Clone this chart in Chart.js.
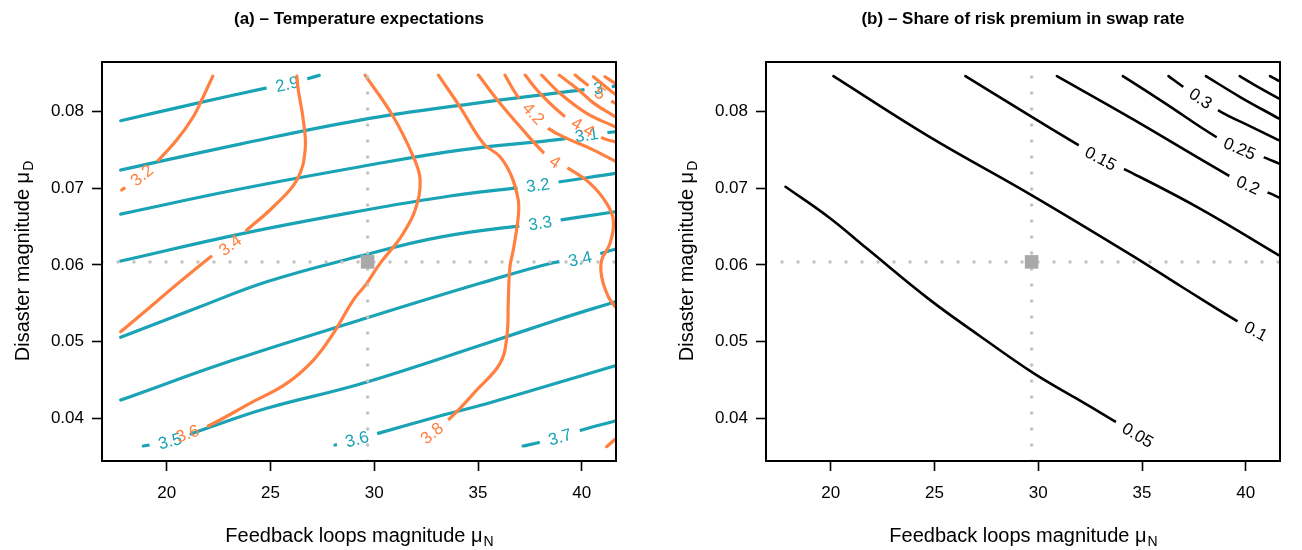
<!DOCTYPE html>
<html><head><meta charset="utf-8">
<script src="https://cdn.jsdelivr.net/npm/chart.js@4.4.1/dist/chart.umd.min.js"></script>
<style>
html,body{margin:0;padding:0;background:#fff;width:1302px;height:550px;overflow:hidden}
.panel{position:absolute;top:0;width:651px;height:550px}
#pa{left:0}#pb{left:651px}
</style></head><body>
<div class="panel" id="pa"><canvas id="ca" width="651" height="550"></canvas></div>
<div class="panel" id="pb"><canvas id="cb" width="651" height="550"></canvas></div>
<script>
// ---------- axes ----------
const xTicks = [20, 25, 30, 35, 40];
const xTickLabels = ['20', '25', '30', '35', '40'];
const yTicks = [0.04, 0.05, 0.06, 0.07, 0.08];
const yTickLabels = ['0.04', '0.05', '0.06', '0.07', '0.08'];
const xRange = [16.88, 41.65];
const yRange = [0.0344, 0.0865];
const refPoint = [29.68, 0.0604];

// ---------- panel (a): teal contours ----------
const tealLevels = ['2.9', '3', '3.1', '3.2', '3.3', '3.4', '3.5', '3.6', '3.7'];
const teal29 = [[17.78,0.07883],[21.27,0.0810],[24.77,0.08309],[25.80,0.08362],[27.35,0.08475]];
const teal30 = [[17.78,0.07239],[23.53,0.07578],[29.32,0.07892],[34.76,0.08107],[40.24,0.08292],[40.79,0.08309],[41.61,0.08336]];
const teal31 = [[17.78,0.06664],[23.53,0.06991],[29.32,0.07282],[34.13,0.0750],[38.95,0.0764],[40.24,0.07696],[41.61,0.07739]];
const teal32 = [[17.78,0.06051],[23.53,0.06403],[29.32,0.06704],[33.65,0.0690],[37.89,0.07043],[41.61,0.07196]];
const teal33 = [[17.78,0.05055],[21.6,0.05454],[24.82,0.05781],[29.32,0.06116],[33.17,0.06364],[37.99,0.06547],[41.61,0.06695]];
const teal34 = [[17.78,0.04236],[23.21,0.04758],[29.32,0.05281],[35.1,0.0576],[38.62,0.06029],[39.92,0.0608],[41.61,0.06204]];
const teal35 = [[18.87,0.03636],[20.16,0.03701],[21.45,0.03822],[24.82,0.04128],[29.32,0.04445],[35.42,0.04977],[38.8,0.05281],[41.61,0.0552]];
const teal36 = [[28.11,0.03649],[29.17,0.03727],[30.31,0.0381],[33.33,0.0404],[35.74,0.04214],[41.61,0.04684]];
const teal37 = [[37.17,0.03636],[37.89,0.03679],[38.95,0.03753],[40.0,0.03845],[41.61,0.03962]];
const tealLines = [teal29, teal30, teal31, teal32, teal33, teal34, teal35, teal36, teal37];
const tealLabelAt = [[25.80,0.08362],[40.79,0.08309],[40.24,0.07696],[37.89,0.07043],[37.99,0.06547],[39.92,0.0608],[20.16,0.03701],[29.17,0.03727],[38.95,0.03753]];

// ---------- panel (a): orange contours ----------
const orangeLevels = ['3.2', '3.4', '3.6', '3.8', '4', '4.2', '4.4', '4.6', '4.8', '5', '5.2', '5.4', '4'];
const orange32 = [[17.83,0.06978],[18.8,0.07174],[19.6,0.0737],[20.48,0.0763],[21.28,0.07935],[21.76,0.08196],[22.22,0.08466]];
const orange34 = [[17.78,0.05128],[22.09,0.06099],[23.05,0.0626],[23.86,0.06456],[25.14,0.0676],[26.27,0.07108],[26.67,0.075],[26.58,0.07892],[26.34,0.08283],[26.27,0.08466]];
const orange36 = [[21.0,0.038],[21.93,0.03888],[24.01,0.04193],[25.78,0.04454],[27.07,0.04758],[28.03,0.05107],[28.99,0.05542],[29.64,0.0576],[30.28,0.06021],[31.0,0.0626],[31.4,0.06413],[31.97,0.06717],[32.21,0.07108],[31.88,0.07413],[30.92,0.07935],[29.56,0.08479]];
const orange38 = [[32.78,0.03805],[33.65,0.03997],[34.94,0.04367],[36.06,0.04715],[36.39,0.05063],[36.46,0.05542],[36.54,0.05977],[36.7,0.06195],[36.94,0.06629],[36.94,0.06847],[36.63,0.07151],[36.06,0.07413],[35.26,0.07587],[34.13,0.08065],[33.09,0.08479]];
const orange40 = [[35.02,0.08479],[36.06,0.0811],[37.03,0.07804],[38.12,0.07478],[38.71,0.07347],[39.35,0.07261],[40.4,0.07065],[41.2,0.06804],[41.52,0.06586],[41.36,0.06282],[40.96,0.06064],[40.96,0.05846],[41.28,0.05585],[41.61,0.05454]];
const orange42 = [[36.3,0.08479],[36.87,0.08218],[37.67,0.07979],[38.39,0.07783],[39.28,0.07653],[40.4,0.07522],[41.61,0.07356]];
const orange44 = [[37.27,0.08479],[37.99,0.0824],[39.2,0.07935],[40.06,0.078],[41.04,0.07653],[41.61,0.07608]];
const orange46 = [[38.07,0.08479],[38.95,0.0824],[40.24,0.07979],[41.61,0.07804]];
const orange48 = [[38.91,0.08479],[39.76,0.08305],[40.59,0.0811],[41.61,0.07935]];
const orange50 = [[39.68,0.08479],[40.4,0.08326],[40.88,0.08244],[41.36,0.08153],[41.61,0.0811]];
const orange52 = [[40.56,0.08457],[41.45,0.08261],[41.61,0.08231]];
const orange54 = [[41.12,0.08457],[41.61,0.08371]];
const orange40b = [[41.2,0.03627],[41.61,0.03723]];
const orangeLines = [orange32, orange34, orange36, orange38, orange40, orange42, orange44, orange46, orange48, orange50, orange52, orange54, orange40b];
const orangeLabelAt = [[18.8,0.07174],[23.05,0.0626],[21.0,0.038],[32.78,0.03805],[38.71,0.07347],[37.67,0.07979],[40.06,0.078],null,null,[40.88,0.08244],null,null,null];

// ---------- panel (b): black contours ----------
const blackLevels = ['0.05', '0.1', '0.15', '0.2', '0.25', '0.3', '0.35', '0.4', '0.45'];
const black005 = [[17.82,0.07021],[19.92,0.06620],[21.76,0.06210],[24.7,0.05560],[27.17,0.05075],[29.75,0.04590],[31.75,0.04270],[33.59,0.03975],[34.8,0.0378]];
const black010 = [[20.13,0.08466],[24.7,0.07683],[29.59,0.06926],[34.49,0.06129],[36.93,0.05712],[39.55,0.05272],[40.49,0.05137]];
const black015 = [[26.49,0.08466],[29.59,0.0795],[31.8,0.07587],[33.01,0.07392],[34.24,0.07239],[37.75,0.06743],[41.58,0.06129]];
const black020 = [[30.9,0.08466],[34.49,0.07914],[39.14,0.07174],[40.11,0.07043],[41.17,0.06935],[41.58,0.06883]];
const black025 = [[34.08,0.08466],[36.12,0.0811],[38.56,0.07674],[39.71,0.07522],[41.01,0.07392],[41.58,0.07326]];
const black030 = [[36.28,0.08466],[36.93,0.08336],[37.83,0.08175],[38.8,0.08],[40.2,0.07813],[41.58,0.0763]];
const black035 = [[38.08,0.08466],[39.71,0.08196],[41.58,0.07914]];
const black040 = [[39.71,0.08466],[40.69,0.08309],[41.58,0.08175]];
const black045 = [[41.17,0.08466],[41.58,0.08405]];
const blackLines = [black005, black010, black015, black020, black025, black030, black035, black040, black045];
const blackLabelAt = [[34.8,0.0378],[40.49,0.05137],[33.01,0.07392],[40.11,0.07043],[39.71,0.07522],[37.83,0.08175],null,null,null];

// ---------- styling ----------
const FONT = "'Liberation Sans', Arial, Helvetica, sans-serif";
const TEAL = '#1aa3b4';
const ORANGE = '#ff8040';
const REF = '#c2c2c2';

function lineDs(points, color, width, text, at) {
  return {
    data: points.map(p => ({x: p[0], y: p[1]})),
    showLine: true, borderColor: color, backgroundColor: color, borderWidth: width,
    pointRadius: 0, pointHoverRadius: 0, tension: 0.4,
    borderCapStyle: 'round', borderJoinStyle: 'round', fill: false,
    lab: at ? {x: at[0], y: at[1], text: text} : null
  };
}
function refDatasets() {
  return [
    {data: [{x: refPoint[0], y: refPoint[1]}], showLine: false, pointStyle: 'rect',
     pointRadius: 9.6, pointBackgroundColor: '#a9a9a9', pointBorderWidth: 0, borderColor: '#a9a9a9'},
    {data: [{x: xRange[0], y: refPoint[1]}, {x: xRange[1], y: refPoint[1]}], showLine: true,
     borderColor: REF, borderWidth: 3.5, borderDash: [0, 16], borderCapStyle: 'round', pointRadius: 0},
    {data: [{x: refPoint[0], y: yRange[0]}, {x: refPoint[0], y: yRange[1]}], showLine: true,
     borderColor: REF, borderWidth: 3.5, borderDash: [0, 16], borderCapStyle: 'round', pointRadius: 0}
  ];
}

// ---------- plugins ----------
const LABEL_SIZE = 17;
function labelGeometry(chart, ds) {
  const xs = chart.scales.x, ys = chart.scales.y;
  const cx = xs.getPixelForValue(ds.lab.x), cy = ys.getPixelForValue(ds.lab.y);
  const pts = ds.data.map(p => [xs.getPixelForValue(p.x), ys.getPixelForValue(p.y)]);
  let best = 0, bd = Infinity;
  pts.forEach((p, i) => { const d = (p[0]-cx)**2 + (p[1]-cy)**2; if (d < bd) { bd = d; best = i; } });
  const a = pts[Math.max(0, best-1)], b = pts[Math.min(pts.length-1, best+1)];
  let ang = Math.atan2(b[1]-a[1], b[0]-a[0]);
  if (ang > Math.PI/2) ang -= Math.PI;
  if (ang < -Math.PI/2) ang += Math.PI;
  const ctx = chart.ctx;
  ctx.save();
  ctx.font = LABEL_SIZE + 'px ' + FONT;
  const w = ctx.measureText(ds.lab.text).width;
  ctx.restore();
  return {cx, cy, ang, w: w + 18, h: LABEL_SIZE + 4};
}
const contourLabels = {
  id: 'contourLabels',
  beforeDatasetDraw(chart, args) {
    const ds = chart.data.datasets[args.index];
    if (!ds.lab) return;
    const g = labelGeometry(chart, ds);
    ds._geo = g;
    const ctx = chart.ctx;
    ctx.save();
    ctx.beginPath();
    ctx.rect(0, 0, chart.width, chart.height);
    const c = Math.cos(g.ang), s = Math.sin(g.ang);
    [[-g.w/2,-g.h/2],[g.w/2,-g.h/2],[g.w/2,g.h/2],[-g.w/2,g.h/2]].forEach((q, i) => {
      const X = g.cx + q[0]*c - q[1]*s, Y = g.cy + q[0]*s + q[1]*c;
      if (i) ctx.lineTo(X, Y); else ctx.moveTo(X, Y);
    });
    ctx.closePath();
    ctx.clip('evenodd');
  },
  afterDatasetDraw(chart, args) {
    const ds = chart.data.datasets[args.index];
    if (!ds.lab) return;
    const ctx = chart.ctx;
    ctx.restore();
    const g = ds._geo;
    ctx.save();
    ctx.translate(g.cx, g.cy);
    ctx.rotate(g.ang);
    ctx.font = LABEL_SIZE + 'px ' + FONT;
    ctx.fillStyle = ds.borderColor;
    ctx.textAlign = 'center';
    ctx.textBaseline = 'middle';
    ctx.fillText(ds.lab.text, 0, 1);
    ctx.restore();
  }
};
function subText(ctx, main, sub, size) {
  ctx.font = size + 'px ' + FONT;
  const w1 = ctx.measureText(main).width;
  ctx.font = Math.round(size*0.7) + 'px ' + FONT;
  const w2 = ctx.measureText(sub).width;
  const x0 = -(w1 + w2) / 2;
  ctx.textAlign = 'left';
  ctx.textBaseline = 'alphabetic';
  ctx.font = size + 'px ' + FONT;
  ctx.fillText(main, x0, size*0.35);
  ctx.font = Math.round(size*0.7) + 'px ' + FONT;
  ctx.fillText(sub, x0 + w1 + 1, size*0.35 + size*0.22);
}
const decorations = {
  id: 'decorations',
  afterDraw(chart, args, opts) {
    const ctx = chart.ctx, a = chart.chartArea;
    ctx.save();
    ctx.strokeStyle = '#000';
    ctx.lineWidth = 2;
    ctx.strokeRect(a.left, a.top, a.right - a.left, a.bottom - a.top);
    ctx.fillStyle = '#000';
    const cx = (a.left + a.right) / 2, cy = (a.top + a.bottom) / 2;
    ctx.font = 'bold 17px ' + FONT;
    ctx.textAlign = 'center';
    ctx.textBaseline = 'middle';
    ctx.fillText(opts.title, cx, 19);
    ctx.save();
    ctx.translate(cx, 535);
    subText(ctx, 'Feedback loops magnitude \u03bc', 'N', 20);
    ctx.restore();
    ctx.save();
    ctx.translate(a.left - 80, cy);
    ctx.rotate(-Math.PI/2);
    subText(ctx, 'Disaster magnitude \u03bc', 'D', 20);
    ctx.restore();
    ctx.restore();
  }
};

function scales(yWidth) {
  const grid = {drawOnChartArea: false, drawTicks: true, tickLength: 10, tickColor: '#000', tickWidth: 1.6, color: '#000'};
  return {
    x: {type: 'linear', min: xRange[0], max: xRange[1],
        afterBuildTicks: s => { s.ticks = xTicks.map(v => ({value: v})); },
        afterFit: s => { s.height = 89; },
        grid: grid, border: {display: false},
        ticks: {color: '#000', font: {family: FONT, size: 17}, padding: 12, maxRotation: 0, autoSkip: false,
                callback: (v, i) => xTickLabels[i]}},
    y: {type: 'linear', min: yRange[0], max: yRange[1],
        afterBuildTicks: s => { s.ticks = yTicks.map(v => ({value: v})); },
        afterFit: s => { s.width = yWidth; },
        grid: grid, border: {display: false},
        ticks: {color: '#000', font: {family: FONT, size: 17}, padding: 8, autoSkip: false,
                callback: (v, i) => yTickLabels[i]}}
  };
}
function makeChart(id, datasets, title, yWidth, padRight) {
  return new Chart(document.getElementById(id), {
    type: 'scatter',
    data: {datasets: datasets},
    options: {
      responsive: false, animation: false, events: [],
      layout: {padding: {left: 0, right: padRight, top: 62, bottom: 0}},
      scales: scales(yWidth),
      plugins: {legend: {display: false}, tooltip: {enabled: false}, title: {display: false},
                decorations: {title: title}}
    },
    plugins: [contourLabels, decorations]
  });
}

const dsA = refDatasets()
  .concat(orangeLines.map((l, i) => lineDs(l, ORANGE, 3.2, orangeLevels[i], orangeLabelAt[i])))
  .concat(tealLines.map((l, i) => lineDs(l, TEAL, 3.2, tealLevels[i], tealLabelAt[i])));
makeChart('ca', dsA, '(a) \u2013 Temperature expectations', 102, 35);

const dsB = refDatasets()
  .concat(blackLines.map((l, i) => lineDs(l, '#000', 2.6, blackLevels[i], blackLabelAt[i])));
makeChart('cb', dsB, '(b) \u2013 Share of risk premium in swap rate', 115, 22);
</script>
</body></html>
